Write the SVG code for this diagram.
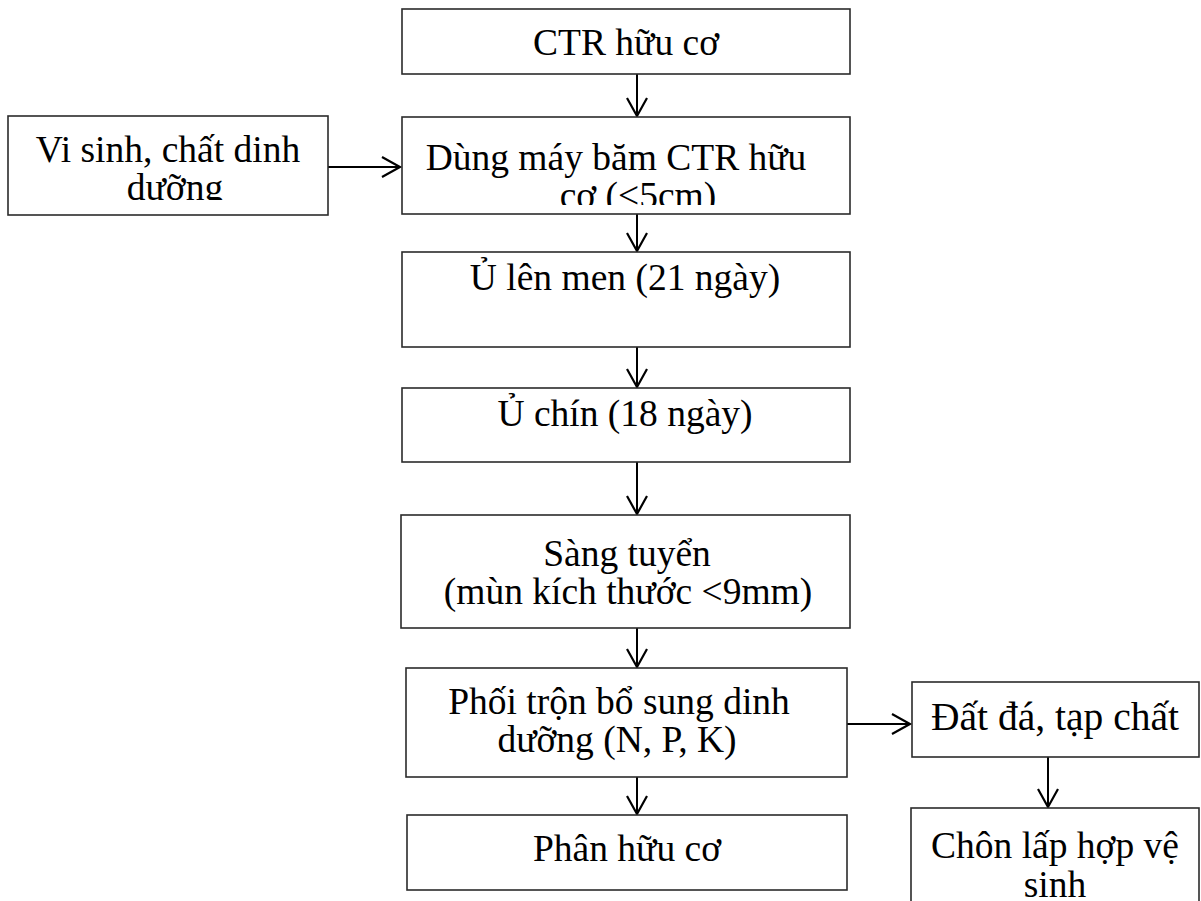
<svg xmlns="http://www.w3.org/2000/svg" width="1201" height="901" viewBox="0 0 1201 901">
  <style>
    .box { fill: #ffffff; stroke: #2b2b2b; stroke-width: 1.6; }
    .lbl { font-family: "Liberation Serif", "Times New Roman", serif; font-size: 37.5px; fill: #000000; text-anchor: middle; }
    .big { font-size: 39.5px; }
    .edge { fill: none; stroke: #000000; stroke-width: 2; marker-end: url(#arrow); }
  </style>
  <defs>
    <marker id="arrow" markerWidth="24" markerHeight="24" refX="19" refY="11" orient="auto" markerUnits="userSpaceOnUse">
      <path d="M1,1 L19,11 L1,21" fill="none" stroke="#000000" stroke-width="2.2"/>
    </marker>
    <clipPath id="clip-additives"><rect x="8" y="116" width="320" height="84"/></clipPath>
    <clipPath id="clip-shred"><rect x="402" y="117" width="448" height="88"/></clipPath>
  </defs>

  <rect width="1201" height="901" fill="#ffffff"/>

  <g id="connectors">
    <line class="edge" x1="637" y1="74" x2="637" y2="116"/>
    <line class="edge" x1="328" y1="167" x2="400" y2="167"/>
    <line class="edge" x1="637" y1="214" x2="637" y2="251"/>
    <line class="edge" x1="637" y1="347" x2="637" y2="387"/>
    <line class="edge" x1="637" y1="462" x2="637" y2="514"/>
    <line class="edge" x1="637" y1="628" x2="637" y2="667"/>
    <line class="edge" x1="847" y1="724" x2="910" y2="724"/>
    <line class="edge" x1="637" y1="777" x2="637" y2="814"/>
    <line class="edge" x1="1048" y1="757" x2="1048" y2="807"/>
  </g>

  <g id="node-ctr">
    <rect class="box" x="402" y="9" width="448" height="65"/>
    <text class="lbl" x="626" y="55">CTR hữu cơ</text>
  </g>

  <g id="node-additives">
    <rect class="box" x="8" y="116" width="320" height="99"/>
    <g clip-path="url(#clip-additives)">
      <text class="lbl" x="168" y="162">Vi sinh, chất dinh</text>
      <text class="lbl" x="175" y="200">dưỡng</text>
    </g>
  </g>

  <g id="node-shred">
    <rect class="box" x="402" y="117" width="448" height="97"/>
    <g clip-path="url(#clip-shred)">
      <text class="lbl" x="616" y="170">Dùng máy băm CTR hữu</text>
      <text class="lbl" x="638" y="208">cơ (&lt;5cm)</text>
    </g>
  </g>

  <g id="node-ferment">
    <rect class="box" x="402" y="252" width="448" height="95"/>
    <text class="lbl" x="625" y="290">Ủ lên men (21 ngày)</text>
  </g>

  <g id="node-mature">
    <rect class="box" x="402" y="388" width="448" height="74"/>
    <text class="lbl" x="625" y="426">Ủ chín (18 ngày)</text>
  </g>

  <g id="node-screen">
    <rect class="box" x="401" y="515" width="449" height="113"/>
    <text class="lbl" x="627" y="566">Sàng tuyển</text>
    <text class="lbl" x="628" y="604">(mùn kích thước &lt;9mm)</text>
  </g>

  <g id="node-mix">
    <rect class="box" x="406" y="668" width="441" height="109"/>
    <text class="lbl" x="619" y="714">Phối trộn bổ sung dinh</text>
    <text class="lbl" x="617" y="752">dưỡng (N, P, K)</text>
  </g>

  <g id="node-residue">
    <rect class="box" x="912" y="682" width="287" height="75"/>
    <text class="lbl big" x="1055" y="730">Đất đá, tạp chất</text>
  </g>

  <g id="node-fertilizer">
    <rect class="box" x="407" y="815" width="440" height="75"/>
    <text class="lbl" x="627" y="861">Phân hữu cơ</text>
  </g>

  <g id="node-landfill">
    <rect class="box" x="911" y="808" width="288" height="100"/>
    <text class="lbl" x="1055" y="858">Chôn lấp hợp vệ</text>
    <text class="lbl" x="1055" y="897">sinh</text>
  </g>
</svg>
